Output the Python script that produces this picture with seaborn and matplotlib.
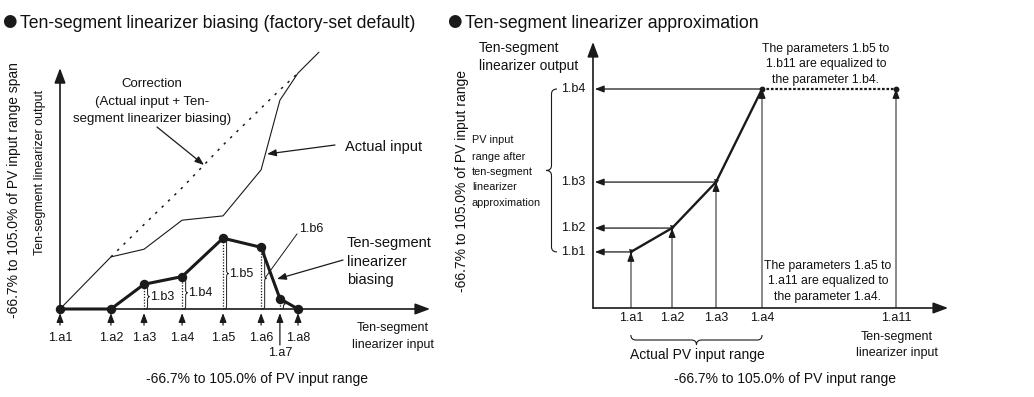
import matplotlib
matplotlib.use("Agg")
import matplotlib.pyplot as plt
import matplotlib.transforms as mtransforms
from matplotlib.path import Path
from matplotlib.patches import PathPatch
import seaborn as sns

# ---- Left panel: ten-segment linearizer biasing (factory-set default) ----
bias_points = ["1.a1", "1.a2", "1.a3", "1.a4", "1.a5", "1.a6", "1.a7", "1.a8"]
bias_input = [0.0, 21.4, 35.3, 51.3, 68.5, 84.5, 92.4, 100.0]
bias_value = [0.0, 0.0, 10.3, 13.5, 29.5, 25.7, 4.3, 0.0]
bias_names = ["", "", "1.b3", "1.b4", "1.b5", "1.b6", "", ""]
actual_input = [0.0, 21.7, 24.9, 37.0, 38.8, 58.0, 87.0, 98.3]
actual_tail_x = [108.8]
actual_tail_y = [107.0]

# ---- Right panel: ten-segment linearizer approximation ----
approx_points = ["1.a1", "1.a2", "1.a3", "1.a4", "1.a11"]
approx_input = [12.5, 26.1, 40.6, 55.8, 100.0]
approx_output = [25.6, 36.5, 57.5, 100.0, 100.0]
output_points = ["1.b1", "1.b2", "1.b3", "1.b4"]

W, H = 1034, 397
sns.set_theme(style="white")
plt.rcParams["font.family"] = ["Liberation Sans", "DejaVu Sans"]
NARROW = ["Liberation Sans Narrow", "Liberation Sans", "DejaVu Sans"]
INK = "#111111"

fig = plt.figure(figsize=(W / 100, H / 100), dpi=100)
# pixel-style layout coordinates (origin top-left) for annotations
PX = mtransforms.Affine2D().scale(1 / W, -1 / H).translate(0, 1) + fig.transFigure

axL = fig.add_axes([0, 0, 0.5, 1])
axL.set_xlim(-25.21, 192.02)
axL.set_ylim(-36.67, 128.75)
axR = fig.add_axes([0.5, 0, 0.5, 1])
axR.set_xlim(-25.08, 145.54)
axR.set_ylim(-40.64, 140.64)
for ax in (axL, axR):
    ax.set_axis_off()

axis_arrow = dict(arrowstyle="-|>,head_length=0.75,head_width=0.28", lw=1.2,
                  color="k", shrinkA=0, shrinkB=0)
small_arrow = dict(arrowstyle="-|>,head_length=0.45,head_width=0.17", lw=0.9,
                   color="k", shrinkA=0, shrinkB=0)


def brace(ax, start, end, at, width, radius, vertical, lw=0.8, color="k"):
    s, e = min(start, end), max(start, end)
    r = min(radius, (e - s) / 4)
    m = (s + e) / 2
    w = width
    nt = [(0, s), (w / 2, s), (w / 2, s + r), (w / 2, m - r), (w / 2, m), (w, m),
          (w / 2, m), (w / 2, m + r), (w / 2, e - r), (w / 2, e), (0, e)]
    codes = [Path.MOVETO, Path.CURVE3, Path.CURVE3, Path.LINETO, Path.CURVE3,
             Path.CURVE3, Path.CURVE3, Path.CURVE3, Path.LINETO, Path.CURVE3,
             Path.CURVE3]
    if vertical:
        verts = [(at + n, t) for n, t in nt]
    else:
        verts = [(t, at + n) for n, t in nt]
    ax.add_patch(PathPatch(Path(verts, codes), fill=False, lw=lw, ec=color,
                           clip_on=False))


def ptext(x, y, s, size=10, ha="left", va="center", family=None, **kw):
    kw.setdefault("color", INK)
    if family is not None:
        kw["family"] = family
    fig.text(x, y, s, transform=PX, fontsize=size, ha=ha, va=va, **kw)


def parrow(x0, y0, x1, y1, style=small_arrow):
    axL.annotate("", xy=(x1, y1), xytext=(x0, y0), xycoords=PX, textcoords=PX,
                 arrowprops=style)


def heading(x, y, s):
    ptext(x - 0.5, y - 3.5, "\u25CF", size=12, family=["DejaVu Sans"], color="k")
    ptext(x + 17, y, s, size=12.7)


# ================= Left panel =================
axL.annotate("", xy=(155.5, 0), xytext=(0, 0), arrowprops=axis_arrow)
axL.annotate("", xy=(0, 100.4), xytext=(0, 0), arrowprops=axis_arrow)

# actual input curve
sns.lineplot(x=bias_input + actual_tail_x, y=actual_input + actual_tail_y,
             sort=False, estimator=None, color="k", lw=0.8, ax=axL)
# correction = actual input + biasing
correction = [a + b for a, b in zip(actual_input, bias_value)]
sns.lineplot(x=bias_input[1:], y=correction[1:], sort=False, estimator=None,
             color="k", lw=1.1, ls=(0, (1.6, 4.2)), ax=axL)

# biasing heights with braces
for x, b, name in zip(bias_input, bias_value, bias_names):
    if b <= 0:
        continue
    axL.plot([x, x], [0, b], color="k", lw=0.9, ls=(0, (1, 1.3)))
    brace(axL, 0, b, x + 0.7, 1.6, 1.2, True, lw=0.7)
    if name and name != "1.b6":
        axL.text(x + 2.7, b / 2, name, fontsize=9, ha="left", va="center",
                 color=INK)

# 1.b6 label with leader line
i6 = bias_names.index("1.b6")
axL.plot([99.6, bias_input[i6] + 1.6], [31.3, bias_value[i6] / 2], color="k",
         lw=0.7)
axL.text(100.4, 33.3, "1.b6", fontsize=9, ha="left", va="center", color=INK)

# biasing curve
sns.lineplot(x=bias_input, y=bias_value, sort=False, estimator=None, color="k",
             lw=2.2, marker="o", markersize=6.8, markeredgewidth=0, ax=axL)

# input break-point arrows and labels
tL = mtransforms.blended_transform_factory(axL.transData, PX)
for x, name in zip(bias_input, bias_points):
    tail = -15.0 if name == "1.a7" else -6.7
    axL.annotate("", xy=(x, -1.7), xytext=(x, tail), arrowprops=small_arrow)
    axL.text(x, 353 if name == "1.a7" else 338, name, transform=tL, fontsize=9,
             ha="center", va="center", color=INK)

heading(3, 24, "Ten-segment linearizer biasing (factory-set default)")
ptext(14, 190, "-66.7% to 105.0% of PV input range span", size=10, ha="center",
      rotation=90)
ptext(40, 172, "Ten-segment linearizer output", size=9, ha="center", rotation=90)

ptext(152, 84, "Correction", size=9.5, ha="center")
ptext(152, 102, "(Actual input + Ten-", size=9.5, ha="center")
ptext(152, 119, "segment linearizer biasing)", size=9.5, ha="center")
parrow(157, 127, 204, 165)

ptext(345, 147, "Actual input", size=10.5)
parrow(335, 145, 267, 154)

ptext(347, 243, "Ten-segment", size=10.5)
ptext(347, 262, "linearizer", size=10.5)
ptext(347, 280, "biasing", size=10.5)
parrow(343, 260, 277, 279)

ptext(393, 328, "Ten-segment", size=9, ha="center")
ptext(393, 345, "linearizer input", size=9, ha="center")
ptext(257.5, 379, "-66.7% to 105.0% of PV input range", size=10, ha="center")

# ================= Right panel =================
axR.annotate("", xy=(117.2, 0), xytext=(0, 0), arrowprops=axis_arrow)
axR.annotate("", xy=(0, 121.5), xytext=(0, 0), arrowprops=axis_arrow)

# vertical guides from the input axis up to each break point
axR.vlines(approx_input, 0, approx_output, color="#8a8a8a", lw=1.4)
for x, y in zip(approx_input, approx_output):
    axR.annotate("", xy=(x, y), xytext=(x, y - 3.0), arrowprops=small_arrow)
# horizontal arrows from break points to the output axis
for x, y in zip(approx_input[:4], approx_output[:4]):
    axR.annotate("", xy=(0.6, y), xytext=(x, y), arrowprops=small_arrow)

sns.lineplot(x=approx_input[:4], y=approx_output[:4], sort=False, estimator=None,
             color="k", lw=1.7, ax=axR)
sns.lineplot(x=approx_input[3:], y=approx_output[3:], sort=False, estimator=None,
             color="k", lw=1.6, ls=(0, (1.2, 0.8)), ax=axR)
axR.plot(approx_input[3:], approx_output[3:], "o", color="k", ms=4.2, mew=0)
axR.plot(approx_input[:3], approx_output[:3], "v", color="k", ms=3.6, mew=0)

tRy = mtransforms.blended_transform_factory(PX, axR.transData)
for y, name in zip(approx_output[:4], output_points):
    axR.text(585, y, name, transform=tRy, fontsize=9, ha="right", va="center",
             color=INK)
tRx = mtransforms.blended_transform_factory(axR.transData, PX)
for x, name in zip(approx_input, approx_points):
    axR.text(x, 318, name, transform=tRx, fontsize=9, ha="center", va="center",
             color=INK)

brace(axR, approx_output[0], approx_output[3], -11.88, -3.63, 2.3, True, lw=0.8)
brace(axR, approx_input[0], approx_input[3], -12.33, -4.57, 1.65, False, lw=0.8)

heading(448, 24, "Ten-segment linearizer approximation")
ptext(479, 48, "Ten-segment", size=10)
ptext(479, 66, "linearizer output", size=10)
ptext(462, 181, "-66.7% to 105.0% of PV input range", size=10, ha="center",
      rotation=90)
for yy, line in zip([140, 157, 172, 187, 203],
                    ["PV input", "range after", "ten-segment", "linearizer",
                     "approximation"]):
    ptext(472, yy, line, size=7.8, family=NARROW)
for yy, line in zip([49, 64, 80], ["The parameters 1.b5 to",
                                   "1.b11 are equalized to",
                                   "the parameter 1.b4."]):
    ptext(826, yy, line, size=8.8, ha="center", family=NARROW)
for yy, line in zip([266, 281, 297], ["The parameters 1.a5 to",
                                      "1.a11 are equalized to",
                                      "the parameter 1.a4."]):
    ptext(828, yy, line, size=8.8, ha="center", family=NARROW)
ptext(697, 355, "Actual PV input range", size=10, ha="center")
ptext(897, 337, "Ten-segment", size=9, ha="center")
ptext(897, 353, "linearizer input", size=9, ha="center")
ptext(785, 379, "-66.7% to 105.0% of PV input range", size=10, ha="center")

fig.savefig("out.png", dpi=100, facecolor="white")
